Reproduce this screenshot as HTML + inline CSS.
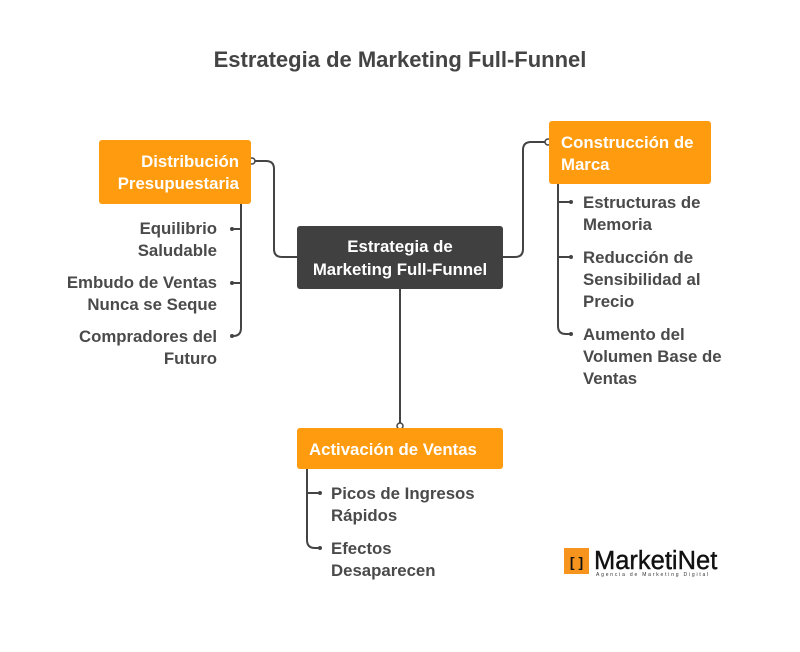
<!DOCTYPE html>
<html><head><meta charset="utf-8"><style>
html,body{margin:0;padding:0;background:#fff;}
svg{display:block;font-family:"Liberation Sans",sans-serif;}
.t{font-size:16.8px;font-weight:bold;fill:#4a4a4a;}
.w{font-size:16.8px;font-weight:bold;fill:#fff;}
</style></head><body>
<svg width="800" height="652" viewBox="0 0 800 652" xmlns="http://www.w3.org/2000/svg">
<text x="400" y="67" text-anchor="middle" font-size="22" font-weight="bold" fill="#444">Estrategia de Marketing Full-Funnel</text>
<g fill="none" stroke="#444" stroke-width="2">
<path d="M254 161 H266 Q274 161 274 169 V249 Q274 257 282 257 H297"/>
<path d="M503 257 H515 Q523 257 523 249 V150 Q523 142 531 142 H546"/>
<path d="M400 289 V424"/>
<path d="M241 204 V328 Q241 336 233 336"/>
<path d="M241 229 H233 M241 283 H233"/>
<path d="M558 184 V326 Q558 334 566 334 H570"/>
<path d="M558 202 H570 M558 257 H570"/>
<path d="M307 469 V540 Q307 548 315 548 H319"/>
<path d="M307 493 H319"/>
</g>
<g fill="#fff" stroke="#444" stroke-width="1.5">
<circle cx="252" cy="161" r="3"/><circle cx="548" cy="142" r="3"/><circle cx="400" cy="426" r="3"/>
</g>
<g fill="#444">
<circle cx="232" cy="229" r="2"/><circle cx="232" cy="283" r="2"/><circle cx="232" cy="336" r="2"/>
<circle cx="571" cy="202" r="2"/><circle cx="571" cy="257" r="2"/><circle cx="571" cy="334" r="2"/>
<circle cx="320" cy="493" r="2"/><circle cx="320" cy="548" r="2"/>
</g>
<rect x="297" y="226" width="206" height="63" rx="3" fill="#404040"/>
<text x="400" y="252" text-anchor="middle" class="w">Estrategia de</text>
<text x="400" y="275" text-anchor="middle" class="w">Marketing Full-Funnel</text>
<rect x="99" y="140" width="152" height="64" rx="3" fill="#FF9B0E"/>
<text x="239" y="167" text-anchor="end" class="w">Distribución</text>
<text x="239" y="189" text-anchor="end" class="w">Presupuestaria</text>
<rect x="549" y="121" width="162" height="63" rx="3" fill="#FF9B0E"/>
<text x="561" y="148" class="w">Construcción de</text>
<text x="561" y="170" class="w">Marca</text>
<rect x="297" y="428" width="206" height="41" rx="3" fill="#FF9B0E"/>
<text x="309" y="455" class="w">Activación de Ventas</text>
<g text-anchor="end">
<text x="217" y="234" class="t">Equilibrio</text><text x="217" y="256" class="t">Saludable</text>
<text x="217" y="288" class="t">Embudo de Ventas</text><text x="217" y="310" class="t">Nunca se Seque</text>
<text x="217" y="342" class="t">Compradores del</text><text x="217" y="364" class="t">Futuro</text>
</g>
<text x="583" y="208" class="t">Estructuras de</text><text x="583" y="230" class="t">Memoria</text>
<text x="583" y="263" class="t">Reducción de</text><text x="583" y="285" class="t">Sensibilidad al</text><text x="583" y="307" class="t">Precio</text>
<text x="583" y="340" class="t">Aumento del</text><text x="583" y="362" class="t">Volumen Base de</text><text x="583" y="384" class="t">Ventas</text>
<text x="331" y="499" class="t">Picos de Ingresos</text><text x="331" y="521" class="t">Rápidos</text>
<text x="331" y="554" class="t">Efectos</text><text x="331" y="576" class="t">Desaparecen</text>
<rect x="564" y="548" width="25" height="26" fill="#F7941D"/>
<text x="576.5" y="567" text-anchor="middle" font-size="14" font-weight="bold" fill="#111">[ ]</text>
<text x="594" y="569" font-size="25.5" fill="#111" stroke="#111" stroke-width="0.4">MarketiNet</text>
<text x="596" y="576" font-size="5" letter-spacing="1.8" fill="#333">Agencia de Marketing Digital</text>
</svg>
</body></html>
